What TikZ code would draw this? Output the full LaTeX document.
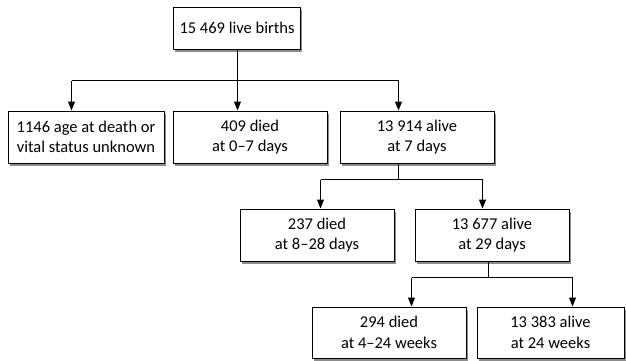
\documentclass[tikz,border=0pt]{standalone}
\usepackage{fontspec}
\setmainfont{Carlito}
\usetikzlibrary{arrows.meta,shadows}
\tikzset{
  box/.style={draw, line width=1pt, fill=white, inner sep=0pt, align=center,
    minimum height=52pt, font=\fontsize{16.5}{20.5}\selectfont,
    drop shadow={shadow xshift=1.5pt, shadow yshift=-2.5pt, fill=black!45, opacity=1}},
  conn/.style={line width=1pt},
  arr/.style={line width=1pt, -{Triangle[width=7pt,length=9pt]}},
}
\begin{document}
\begin{tikzpicture}[x=1pt,y=-1pt]
\useasboundingbox (0,0) rectangle (626,360);
\node[box, minimum width=127pt, minimum height=42pt] (top) at (237,28) {15 469 live births};
\node[box, minimum width=156pt] (b1) at (86,137) {1146 age at death or\\vital status unknown};
\node[box, minimum width=154pt] (b2) at (250,137) {409 died\\at 0--7 days};
\node[box, minimum width=154pt] (b3) at (417,137) {13 914 alive\\at 7 days};
\node[box, minimum width=154pt] (b4) at (317,235) {237 died\\at 8--28 days};
\node[box, minimum width=154pt] (b5) at (492,235) {13 677 alive\\at 29 days};
\node[box, minimum width=154pt, minimum height=51pt] (b6) at (389,332.5) {294 died\\at 4--24 weeks};
\node[box, minimum width=147pt, minimum height=51pt] (b7) at (550.5,332.5) {13 383 alive\\at 24 weeks};
% level 1
\coordinate (j1) at (237.5,80.5);
\coordinate (j1L) at (71.5,80.5);
\coordinate (j1R) at (398.5,80.5);
\draw[conn] (j1 |- top.south) -- (j1);
\draw[conn] (j1L) -- (j1R);
\draw[arr] (j1L) -- (j1L |- b1.north);
\draw[arr] (j1) -- (j1 |- b2.north);
\draw[arr] (j1R) -- (j1R |- b3.north);
% level 2
\coordinate (j2) at (398.5,179.5);
\coordinate (j2L) at (320.5,179.5);
\coordinate (j2R) at (482.5,179.5);
\draw[conn] (j2 |- b3.south) -- (j2);
\draw[conn] (j2L) -- (j2R);
\draw[arr] (j2L) -- (j2L |- b4.north);
\draw[arr] (j2R) -- (j2R |- b5.north);
% level 3
\coordinate (j3) at (488.5,277.5);
\coordinate (j3L) at (411.5,277.5);
\coordinate (j3R) at (572.5,277.5);
\draw[conn] (j3 |- b5.south) -- (j3);
\draw[conn] (j3L) -- (j3R);
\draw[arr] (j3L) -- (j3L |- b6.north);
\draw[arr] (j3R) -- (j3R |- b7.north);
\end{tikzpicture}
\end{document}
